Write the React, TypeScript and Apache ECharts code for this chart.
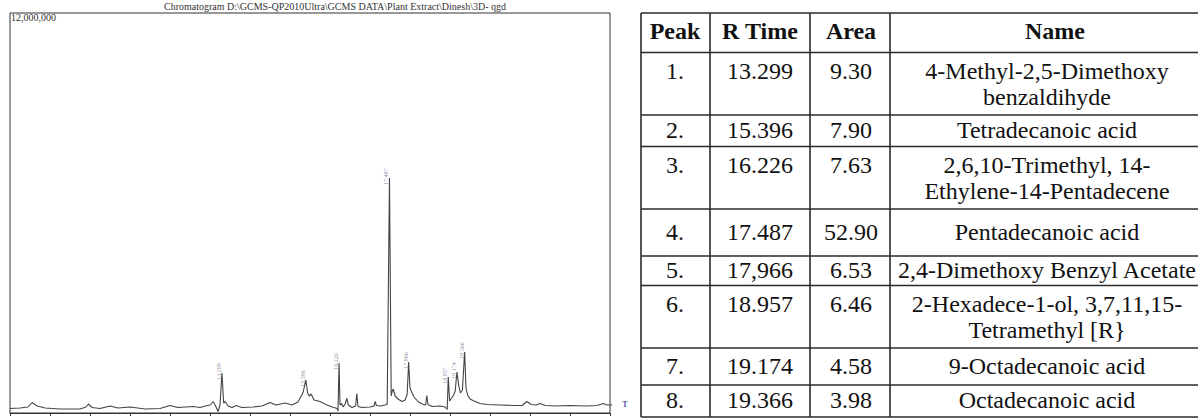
import React, { useEffect, useRef } from "react";
import * as echarts from "echarts";

// ---------- data ----------
const chartTitle =
  "Chromatogram D:\\GCMS-QP2010Ultra\\GCMS DATA\\Plant Extract\\Dinesh\\3D- qgd";
const yMaxLabel = "12,000,000";

// x axis: retention time (min)
const xMin = 8;
const xMax = 23;

// chromatogram trace (time in min, intensity in counts)
const traceTimes = [
  8.0, 8.25, 8.45, 8.55, 8.68, 8.88, 9.25, 9.75, 9.9, 9.96, 10.05, 10.25, 10.5,
  10.7, 11.0, 11.38, 11.75, 12.0, 12.2, 12.58, 12.75, 12.88, 13.0, 13.08, 13.14,
  13.2, 13.25, 13.299, 13.34, 13.38, 13.45, 13.55, 13.65, 13.8, 14.08, 14.3,
  14.5, 14.65, 14.88, 15.05, 15.2, 15.28, 15.33, 15.396, 15.44, 15.48, 15.53,
  15.6, 15.75, 15.9, 16.05, 16.18, 16.2, 16.226, 16.25, 16.29, 16.33, 16.38,
  16.42, 16.46, 16.55, 16.64, 16.67, 16.7, 16.8, 17.0, 17.1, 17.13, 17.16,
  17.25, 17.38, 17.43, 17.487, 17.53, 17.55, 17.58, 17.63, 17.7, 17.8, 17.88,
  17.93, 17.966, 18.0, 18.04, 18.1, 18.2, 18.3, 18.39, 18.42, 18.45, 18.55,
  18.75, 18.88, 18.93, 18.957, 18.99, 19.04, 19.09, 19.13, 19.174, 19.22,
  19.26, 19.31, 19.366, 19.4, 19.44, 19.5, 19.6, 19.75, 19.93, 20.25, 20.58,
  20.8, 20.92, 21.03, 21.15, 21.25, 21.38, 21.63, 22.0, 22.4, 22.68, 22.83,
  22.93, 23.0, 23.18,
];
const traceIntensity = [
  135000, 150000, 180000, 315000, 210000, 150000, 120000, 120000, 180000,
  270000, 165000, 135000, 210000, 150000, 180000, 120000, 135000, 225000,
  165000, 195000, 165000, 210000, 240000, 345000, 210000, 45000, 240000,
  1200000, 300000, 345000, 210000, 165000, 225000, 165000, 180000, 210000,
  315000, 240000, 300000, 240000, 330000, 510000, 630000, 990000, 600000,
  510000, 570000, 390000, 345000, 255000, 180000, 135000, 60000, 1500000,
  240000, 285000, 180000, 270000, 435000, 240000, 165000, 210000, 585000,
  195000, 165000, 180000, 210000, 345000, 225000, 210000, 240000, 270000,
  7050000, 510000, 630000, 720000, 510000, 420000, 345000, 390000, 570000,
  1530000, 750000, 630000, 480000, 345000, 270000, 240000, 525000, 255000,
  195000, 210000, 180000, 105000, 1080000, 360000, 450000, 540000, 660000,
  1230000, 810000, 600000, 690000, 1830000, 750000, 540000, 420000, 360000,
  285000, 255000, 240000, 225000, 225000, 345000, 255000, 240000, 285000,
  225000, 210000, 225000, 210000, 225000, 285000, 240000, 240000, 255000,
];

// labelled peaks
const peakTimes = [13.299, 15.396, 16.226, 17.487, 17.966, 18.957, 19.174, 19.366];
const peakIntensity = [1200000, 990000, 1500000, 7050000, 1530000, 1080000, 1230000, 1830000];

// table
const tableHeaders = ["Peak", "R Time", "Area", "Name"];
const peakNumbers = ["1.", "2.", "3.", "4.", "5.", "6.", "7.", "8."];
const rTimes = ["13.299", "15.396", "16.226", "17.487", "17,966", "18.957", "19.174", "19.366"];
const areas = ["9.30", "7.90", "7.63", "52.90", "6.53", "6.46", "4.58", "3.98"];
const names = [
  ["4-Methyl-2,5-Dimethoxy", "benzaldihyde"],
  ["Tetradecanoic acid"],
  ["2,6,10-Trimethyl, 14-", "Ethylene-14-Pentadecene"],
  ["Pentadecanoic acid"],
  ["2,4-Dimethoxy Benzyl Acetate"],
  ["2-Hexadece-1-ol, 3,7,11,15-", "Tetramethyl [R}"],
  ["9-Octadecanoic acid"],
  ["Octadecanoic acid"],
];

// ---------- layout (positions / styles) ----------
const W = 1198;
const H = 418;
const colLines = [641, 710, 810, 890];
const colCenters = [675, 760, 851, 1047];
const rowLines = [13, 52.5, 115, 146.5, 209, 256, 285.5, 348, 385, 417];
const tableRight = 1198;
const serif = "'Liberation Serif', 'Times New Roman', serif";
const cellFont = `24px ${serif}`;
const headFont = `bold 24px ${serif}`;

function txt(text: string, x: number, y: number, font: string, fill = "#111") {
  return {
    type: "text",
    x,
    y,
    silent: true,
    style: {
      text,
      font,
      fill,
      textAlign: "center",
      textVerticalAlign: "middle",
      align: "center",
      verticalAlign: "middle",
    },
  };
}

function buildTable() {
  const els: any[] = [];
  const stroke = "#2a2a2a";
  rowLines.forEach((y) => {
    els.push({
      type: "line",
      silent: true,
      shape: { x1: colLines[0], y1: y, x2: tableRight, y2: y },
      style: { stroke, lineWidth: 1.6 },
    });
  });
  colLines.forEach((x) => {
    els.push({
      type: "line",
      silent: true,
      shape: { x1: x, y1: rowLines[0], x2: x, y2: rowLines[rowLines.length - 1] },
      style: { stroke, lineWidth: 1.6 },
    });
  });
  tableHeaders.forEach((h, i) => {
    els.push(txt(h, colCenters[i] + (i === 3 ? 8 : 0), (rowLines[0] + rowLines[1]) / 2 - 1.5, headFont));
  });
  peakNumbers.forEach((p, r) => {
    const top = rowLines[r + 1];
    const bot = rowLines[r + 2];
    const multi = names[r].length > 1;
    const y1 = multi ? top + 18 : (top + bot) / 2 - 1;
    els.push(txt(p, colCenters[0], y1, cellFont));
    els.push(txt(rTimes[r], colCenters[1], y1, cellFont));
    els.push(txt(areas[r], colCenters[2], y1, cellFont));
    names[r].forEach((line, k) => {
      els.push(txt(line, colCenters[3], y1 + k * 26, cellFont));
    });
  });
  return els;
}

export default function App() {
  const ref = useRef<HTMLDivElement>(null);
  useEffect(() => {
    if (!ref.current) return;
    const chart = echarts.init(ref.current, undefined, { renderer: "svg" });
    const trace = traceTimes.map((t, i) => [t, traceIntensity[i]]);
    const peaks = peakTimes.map((t, i) => [t, peakIntensity[i]]);
    chart.setOption({
      animation: false,
      backgroundColor: "#ffffff",
      grid: {
        left: 10,
        right: W - 610,
        top: 13,
        bottom: H - 413,
        show: true,
        borderColor: "#333",
        borderWidth: 1,
        backgroundColor: "transparent",
      },
      xAxis: {
        type: "value",
        min: xMin,
        max: xMax,
        interval: 1,
        axisLine: { show: true, onZero: false, lineStyle: { color: "#333", width: 1 } },
        axisTick: { show: true, inside: false, length: 3, lineStyle: { color: "#333" } },
        axisLabel: { show: false },
        splitLine: { show: false },
      },
      yAxis: {
        type: "value",
        min: 0,
        max: 12000000,
        show: false,
        splitLine: { show: false },
      },
      series: [
        {
          type: "line",
          data: trace,
          showSymbol: false,
          clip: false,
          lineStyle: { color: "#444", width: 1.1 },
          silent: true,
        },
        {
          type: "scatter",
          data: peaks,
          symbolSize: 1,
          itemStyle: { color: "rgba(0,0,0,0)" },
          silent: true,
          label: {
            show: true,
            position: "top",
            distance: 1,
            rotate: 90,
            fontSize: 6,
            color: "#7a6a8a",
            fontFamily: serif,
            formatter: (p: any) => p.value[0].toFixed(3),
          },
        },
      ],
      graphic: [
        txt(chartTitle, 335, 6, `10px ${serif}`, "#333"),
        {
          type: "text",
          x: 11,
          y: 17,
          silent: true,
          style: {
            text: yMaxLabel,
            font: `10px ${serif}`,
            fill: "#333",
            textAlign: "left",
            textVerticalAlign: "middle",
            align: "left",
            verticalAlign: "middle",
          },
        },
        txt("T", 625, 404, `bold 8px ${serif}`, "#5a5ab0"),
        ...buildTable(),
      ],
    });
    return () => chart.dispose();
  }, []);
  return (
    <div
      ref={ref}
      style={{ position: "fixed", left: 0, top: 0, width: W, height: H, background: "#fff" }}
    />
  );
}
